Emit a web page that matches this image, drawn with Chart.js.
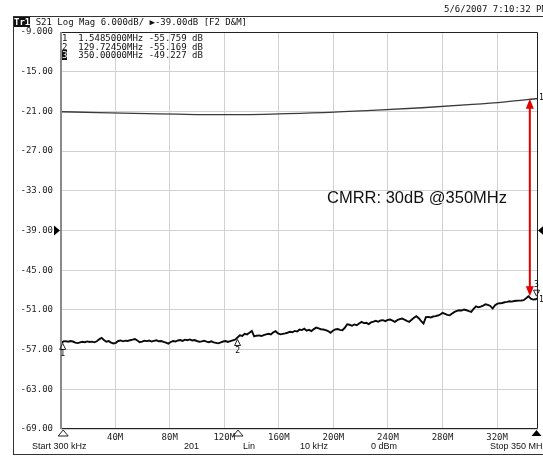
<!DOCTYPE html>
<html>
<head>
<meta charset="utf-8">
<script src="https://cdn.jsdelivr.net/npm/chart.js@4.4.1/dist/chart.umd.min.js"></script>
<style>
  body { margin: 0; background: #fff; overflow: hidden; }
  #wrap { position: relative; width: 543px; height: 456px; overflow: hidden; }
  #frame { position: absolute; left: 13px; top: 16px; width: 540px; height: 437px;
    border-top: 1px solid #333; border-left: 1px solid #333; border-bottom: 1px solid #333; }
  canvas { position: absolute; left: 0; top: 0; }
  .t { position: absolute; white-space: pre; color: #111; }
  .mono { font-family: 'DejaVu Sans Mono', monospace; font-size: 9px; line-height: 10px; }
  .sans { font-family: 'Liberation Sans', Arial, sans-serif; font-size: 9px; line-height: 10px; }
  .inv { background: #111; color: #fff; }
  #mk { line-height: 8.5px; }
  #cmrr { font-family: 'Liberation Sans', Arial, sans-serif; font-size: 16.5px; line-height: 18px; }
</style>
</head>
<body>
<div id="wrap">
  <div id="frame"></div>
  <canvas id="chart" width="543" height="456"></canvas>

  <div class="t mono" style="left:444px;top:4px">5/6/2007 7:10:32 PM</div>
  <div class="t mono" style="left:14px;top:17px"><span class="inv"><b>Tr1</b></span> S21 Log Mag 6.000dB/ ▶-39.00dB [F2 D&amp;M]</div>

  <div id="mk" class="t mono" style="left:62px;top:34px">1  1.5485000MHz -55.759 dB
2  129.72450MHz -55.169 dB
<span class="inv">3</span>  350.00000MHz -49.227 dB</div>

  <div id="cmrr" class="t" style="left:327px;top:188px">CMRR: 30dB @350MHz</div>

  <div class="t sans" style="left:32px;top:441px">Start 300 kHz</div>
  <div class="t sans" style="left:184px;top:441px">201</div>
  <div class="t sans" style="left:243px;top:441px">Lin</div>
  <div class="t sans" style="left:300px;top:441px">10 kHz</div>
  <div class="t sans" style="left:371px;top:441px">0 dBm</div>
  <div class="t sans" style="left:490px;top:441px">Stop 350 MHz</div>
</div>

<script>
'use strict'

// sweep setup (from the footer)
let startMHz = 0.3;
let stopMHz = 350;
let sweepPoints = 201;

// axis
let xTickValues = [40, 80, 120, 160, 200, 240, 280, 320];
let yMin = -69;
let yMax = -9;
let yStep = 6;
let refLevel = -39;

// upper trace (common mode), read at a few frequencies
let upperFreq = [0.3, 28, 64, 86, 118, 155, 192, 228, 265, 302, 326, 350];
let upperDb = [-21.05, -21.18, -21.33, -21.42, -21.5, -21.4, -21.2, -20.85, -20.45, -19.95, -19.55, -19.05];

// lower trace (differential), one value per sweep point
let lowerDb = [
  -56.05, -55.76, -55.72, -55.80, -55.70, -55.78, -55.95, -56.02, -55.90, -55.82,
  -55.88, -55.76, -55.84, -55.80, -55.90, -55.74, -55.45, -55.22, -55.55, -55.80,
  -55.72, -55.95, -56.08, -55.98, -55.70, -55.62, -55.75, -55.65, -55.70, -55.58,
  -55.50, -55.40, -55.62, -55.88, -55.80, -55.66, -55.72, -55.64, -55.78, -55.68,
  -55.60, -55.74, -55.70, -55.82, -55.95, -56.10, -55.85, -55.70, -55.78, -55.62,
  -55.55, -55.68, -55.50, -55.58, -55.46, -55.62, -55.55, -55.70, -55.82, -55.75,
  -55.66, -55.80, -55.88, -55.75, -55.92, -55.98, -56.05, -55.90, -55.78, -55.70,
  -55.85, -55.72, -55.60, -55.50, -55.17, -54.85, -54.95, -54.60, -54.70, -54.45,
  -54.18, -55.00, -54.90, -54.85, -54.95, -54.80, -54.70, -54.62, -54.72, -54.40,
  -54.22, -54.55, -54.70, -54.62, -54.55, -54.45, -54.30, -54.38, -54.18, -54.25,
  -53.98, -54.05, -53.85, -54.15, -54.02, -54.20, -53.90, -53.68, -53.80, -53.92,
  -53.96, -54.05, -54.20, -54.45, -54.15, -53.95, -53.90, -54.02, -54.06, -53.70,
  -53.18, -53.25, -53.40, -53.20, -53.32, -53.05, -52.82, -53.00, -52.95, -53.15,
  -52.90, -52.78, -52.65, -52.80, -52.60, -52.55, -52.70, -52.50, -52.45, -52.62,
  -52.80, -52.55, -52.40, -52.30, -52.48, -52.65, -52.80, -52.50, -52.20, -51.95,
  -52.25, -52.70, -53.05, -52.10, -52.05, -52.15, -52.00, -51.95, -51.85, -51.70,
  -51.45, -51.60, -51.75, -51.80, -51.55, -51.30, -51.14, -51.05, -51.10, -50.94,
  -51.05, -51.20, -51.30, -50.85, -50.45, -50.60, -50.50, -50.35, -50.15, -50.25,
  -50.40, -50.80, -50.30, -50.05, -50.00, -49.95, -49.85, -49.78, -49.70, -49.75,
  -49.65, -49.62, -49.60, -49.58, -49.53, -49.25, -48.95, -49.30, -49.45, -49.40,
  -49.23
];

// markers
let markerFreq = [1.5485, 129.7245, 350];
let markerDb = [-55.759, -55.169, -49.227];
let activeMarker = 3;

// CMRR arrow
let arrowFreq = 344;
let arrowTop = -19.1;
let arrowBottom = -48.95;

// stimulus points of the sweep
let lowerFreq = [];
for (let i = 0; i < sweepPoints; i++) {
  lowerFreq.push(startMHz + i * (stopMHz - startMHz) / (sweepPoints - 1));
}

let ctx = document.getElementById('chart');

function tri(c, p1, p2, p3, filled) {
  c.beginPath();
  c.moveTo(p1[0], p1[1]);
  c.lineTo(p2[0], p2[1]);
  c.lineTo(p3[0], p3[1]);
  c.closePath();
  if (filled) {
    c.fill();
  } else {
    c.stroke();
  }
}

let overlay = {
  id: 'overlay',
  afterDatasetsDraw(chart) {
    let c = chart.ctx;
    let a = chart.chartArea;
    let x = chart.scales.x;
    let y = chart.scales.y;
    c.save();

    // plot frame
    c.strokeStyle = '#222';
    c.lineWidth = 1;
    c.beginPath();
    c.moveTo(a.left, a.top + 0.5);
    c.lineTo(a.right - 0.5, a.top + 0.5);
    c.lineTo(a.right - 0.5, a.bottom - 0.5);
    c.lineTo(a.left, a.bottom - 0.5);
    c.stroke();
    c.strokeStyle = '#8a8a8a';
    c.lineWidth = 2;
    c.beginPath();
    c.moveTo(a.left, a.top);
    c.lineTo(a.left, a.bottom);
    c.stroke();

    // reference level arrows
    let yr = y.getPixelForValue(refLevel);
    c.fillStyle = '#000';
    tri(c, [a.left - 1, yr], [a.left - 7, yr - 5], [a.left - 7, yr + 5], true);
    tri(c, [a.right, yr], [a.right + 6, yr - 5], [a.right + 6, yr + 5], true);

    // markers on the trace and stimulus markers under the axis
    c.strokeStyle = '#222';
    c.lineWidth = 1;
    c.font = '8px "DejaVu Sans Mono"';
    c.textAlign = 'center';
    c.textBaseline = 'middle';
    for (let i = 0; i < markerFreq.length; i++) {
      let px = x.getPixelForValue(markerFreq[i]);
      let py = y.getPixelForValue(markerDb[i]);
      let num = i + 1;
      if (num === activeMarker) {
        px = Math.min(px, a.right - 1.5);
        tri(c, [px, py - 2], [px - 3, py - 8], [px + 3, py - 8], false);
        c.fillText(String(num), px, py - 13);
        tri(c, [px, a.bottom + 1], [px - 5, a.bottom + 7], [px + 5, a.bottom + 7], true);
      } else {
        tri(c, [px, py + 2], [px - 3, py + 8], [px + 3, py + 8], false);
        c.fillText(String(num), px, py + 13);
        tri(c, [px + 0.5, a.bottom + 1], [px - 4.5, a.bottom + 7], [px + 5.5, a.bottom + 7], false);
      }
    }

    // trace numbers at the right edge
    c.textAlign = 'left';
    c.fillText('1', a.right + 1, y.getPixelForValue(upperDb[upperDb.length - 1]) - 1);
    c.fillText('1', a.right + 1, y.getPixelForValue(lowerDb[lowerDb.length - 1]) + 2);

    // red double arrow
    let ax = x.getPixelForValue(arrowFreq);
    let y1 = y.getPixelForValue(arrowTop);
    let y2 = y.getPixelForValue(arrowBottom);
    c.strokeStyle = '#e00000';
    c.fillStyle = '#e00000';
    c.lineWidth = 2;
    c.beginPath();
    c.moveTo(ax, y1 + 8);
    c.lineTo(ax, y2 - 8);
    c.stroke();
    tri(c, [ax, y1], [ax - 4, y1 + 10], [ax + 4, y1 + 10], true);
    tri(c, [ax, y2], [ax - 4, y2 - 10], [ax + 4, y2 - 10], true);

    c.restore();
  }
};

let myChart = new Chart(ctx, {
  type: 'line',
  data: {
    datasets: [{
      label: 'upper',
      data: upperFreq.map((f, i) => ({ x: f, y: upperDb[i] })),
      borderColor: '#3a3a3a',
      borderWidth: 1.3,
      pointRadius: 0,
      cubicInterpolationMode: 'monotone'
    },
    {
      label: 'lower',
      data: lowerFreq.map((f, i) => ({ x: f, y: lowerDb[i] })),
      borderColor: '#0a0a0a',
      borderWidth: 1.9,
      pointRadius: 0,
      tension: 0
    }]
  },
  options: {
    responsive: false,
    animation: false,
    layout: { padding: { top: 32, right: 5, left: 0, bottom: 0 } },
    plugins: { legend: { display: false }, tooltip: { enabled: false } },
    scales: {
      x: {
        type: 'linear',
        min: startMHz,
        max: stopMHz,
        afterBuildTicks: (s) => { s.ticks = xTickValues.map(v => ({ value: v })); },
        afterFit: (s) => { s.height = 27; },
        grid: { color: '#d2d2d2', drawTicks: false },
        border: { display: false },
        ticks: {
          padding: 3,
          autoSkip: false,
          maxRotation: 0,
          color: '#222',
          font: { family: 'DejaVu Sans Mono', size: 9 },
          callback: (v) => v + 'M'
        }
      },
      y: {
        min: yMin,
        max: yMax,
        afterFit: (s) => { s.width = 61; },
        grid: { color: '#d2d2d2', drawTicks: false },
        border: { display: false },
        ticks: {
          stepSize: yStep,
          padding: 8,
          color: '#222',
          font: { family: 'DejaVu Sans Mono', size: 9 },
          callback: (v) => (v === yMax ? v.toFixed(3) : v.toFixed(2))
        }
      }
    }
  },
  plugins: [overlay]
});
</script>
</body>
</html>
